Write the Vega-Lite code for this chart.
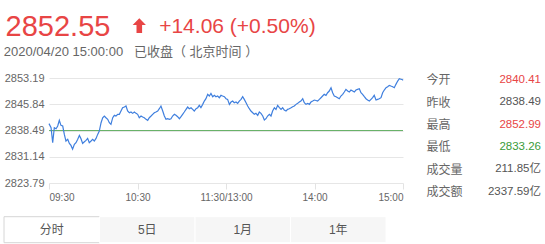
{
  "$schema": "https://vega.github.io/schema/vega-lite/v6.json",
  "autosize": {"type": "pad"},
  "padding": {"left": 3, "top": 13, "right": 5, "bottom": 3},
  "background": "#ffffff",
  "config": {
    "view": {"stroke": null},
    "font": "Liberation Sans, Noto Sans CJK SC, sans-serif",
    "text": {"font": "Liberation Sans, Noto Sans CJK SC, sans-serif"}
  },
  "datasets": {
    "quote": [{"price": "2852.55", "change": "+14.06 (+0.50%)", "stamp": "2020/04/20 15:00:00\u00a0\u00a0\u00a0已收盘（\u00a0北京时间\u00a0）", "blank": ""}],
    "ref": [{"name": "昨收", "price": 2838.49}],
    "stats": [
      {"item": "今开", "value": "2840.41", "dir": "up"},
      {"item": "昨收", "value": "2838.49", "dir": "flat"},
      {"item": "最高", "value": "2852.99", "dir": "up"},
      {"item": "最低", "value": "2833.26", "dir": "down"},
      {"item": "成交量", "value": "211.85亿", "dir": "flat"},
      {"item": "成交额", "value": "2337.59亿", "dir": "flat"}
    ],
    "tabs": [
      {"tab": "分时", "state": "on"},
      {"tab": "5日", "state": "off"},
      {"tab": "1月", "state": "off"},
      {"tab": "1年", "state": "off"}
    ],
    "line": [
      {"t": 0, "v": 2840.41}, {"t": 1.4, "v": 2839.27}, {"t": 2.5, "v": 2835.07}, {"t": 3.6, "v": 2839.27}, {"t": 4.8, "v": 2838.99},
      {"t": 5.9, "v": 2839.74}, {"t": 7.0, "v": 2841.33}, {"t": 8.1, "v": 2839.93}, {"t": 9.3, "v": 2839.74}, {"t": 10.4, "v": 2837.40},
      {"t": 11.5, "v": 2835.54}, {"t": 12.7, "v": 2836.00}, {"t": 13.8, "v": 2834.88}, {"t": 14.9, "v": 2834.32}, {"t": 16.0, "v": 2833.26},
      {"t": 17.2, "v": 2834.60}, {"t": 18.3, "v": 2835.07}, {"t": 19.4, "v": 2836.00}, {"t": 20.6, "v": 2837.12}, {"t": 21.7, "v": 2836.19},
      {"t": 22.8, "v": 2834.88}, {"t": 24.0, "v": 2835.35}, {"t": 25.1, "v": 2835.72}, {"t": 26.2, "v": 2836.28}, {"t": 27.3, "v": 2835.07},
      {"t": 28.5, "v": 2835.54}, {"t": 29.6, "v": 2836.00}, {"t": 30.7, "v": 2835.54}, {"t": 31.9, "v": 2836.28}, {"t": 33.0, "v": 2837.40},
      {"t": 34.1, "v": 2838.34}, {"t": 35.3, "v": 2840.67}, {"t": 36.4, "v": 2842.07}, {"t": 37.5, "v": 2842.54}, {"t": 38.6, "v": 2842.07},
      {"t": 39.8, "v": 2841.61}, {"t": 40.9, "v": 2840.67}, {"t": 42.0, "v": 2840.21}, {"t": 43.2, "v": 2842.07}, {"t": 44.3, "v": 2842.73},
      {"t": 45.4, "v": 2842.54}, {"t": 46.6, "v": 2843.01}, {"t": 47.7, "v": 2843.01}, {"t": 48.8, "v": 2843.94}, {"t": 49.9, "v": 2844.87},
      {"t": 51.1, "v": 2845.06}, {"t": 52.2, "v": 2845.34}, {"t": 53.3, "v": 2843.94}, {"t": 54.5, "v": 2843.47}, {"t": 55.6, "v": 2843.66},
      {"t": 56.7, "v": 2843.29}, {"t": 57.9, "v": 2843.66}, {"t": 59.0, "v": 2843.29}, {"t": 60.1, "v": 2843.01}, {"t": 61.2, "v": 2842.07},
      {"t": 62.4, "v": 2842.54}, {"t": 63.5, "v": 2842.26}, {"t": 64.6, "v": 2842.07}, {"t": 65.8, "v": 2841.61}, {"t": 66.9, "v": 2841.33},
      {"t": 68.0, "v": 2842.07}, {"t": 69.2, "v": 2842.54}, {"t": 70.3, "v": 2843.01}, {"t": 71.4, "v": 2843.47}, {"t": 72.5, "v": 2843.66},
      {"t": 73.7, "v": 2843.94}, {"t": 74.8, "v": 2844.59}, {"t": 75.9, "v": 2845.34}, {"t": 77.1, "v": 2843.94}, {"t": 78.2, "v": 2842.54},
      {"t": 79.3, "v": 2841.61}, {"t": 80.4, "v": 2841.79}, {"t": 81.6, "v": 2841.61}, {"t": 82.7, "v": 2841.79}, {"t": 83.8, "v": 2842.54},
      {"t": 85.0, "v": 2843.01}, {"t": 86.1, "v": 2842.73}, {"t": 87.2, "v": 2842.35}, {"t": 88.4, "v": 2841.79}, {"t": 89.5, "v": 2842.35},
      {"t": 90.6, "v": 2843.01}, {"t": 91.7, "v": 2843.66}, {"t": 92.9, "v": 2844.41}, {"t": 94.0, "v": 2845.06}, {"t": 95.1, "v": 2844.59},
      {"t": 96.3, "v": 2844.87}, {"t": 97.4, "v": 2844.41}, {"t": 98.5, "v": 2843.94}, {"t": 99.7, "v": 2844.59}, {"t": 100.8, "v": 2844.87},
      {"t": 101.9, "v": 2845.53}, {"t": 103.0, "v": 2844.87}, {"t": 104.2, "v": 2845.81}, {"t": 105.3, "v": 2846.74}, {"t": 106.4, "v": 2847.39},
      {"t": 107.6, "v": 2848.61}, {"t": 108.7, "v": 2848.14}, {"t": 109.8, "v": 2848.89}, {"t": 111.0, "v": 2847.95}, {"t": 112.1, "v": 2848.33},
      {"t": 113.2, "v": 2847.95}, {"t": 114.3, "v": 2848.14}, {"t": 115.5, "v": 2847.67}, {"t": 116.6, "v": 2848.33}, {"t": 117.7, "v": 2848.14},
      {"t": 118.9, "v": 2847.95}, {"t": 120.0, "v": 2847.39}, {"t": 121.1, "v": 2847.21}, {"t": 122.3, "v": 2845.81}, {"t": 123.4, "v": 2846.46},
      {"t": 124.5, "v": 2846.74}, {"t": 125.6, "v": 2846.27}, {"t": 126.8, "v": 2846.46}, {"t": 127.9, "v": 2846.09}, {"t": 129.0, "v": 2846.74},
      {"t": 130.2, "v": 2847.21}, {"t": 131.3, "v": 2847.95}, {"t": 132.4, "v": 2847.21}, {"t": 133.6, "v": 2846.27}, {"t": 134.7, "v": 2845.34},
      {"t": 135.8, "v": 2844.59}, {"t": 136.9, "v": 2843.94}, {"t": 138.1, "v": 2843.47}, {"t": 139.2, "v": 2843.01}, {"t": 140.3, "v": 2843.29},
      {"t": 141.5, "v": 2842.73}, {"t": 142.6, "v": 2843.66}, {"t": 143.7, "v": 2843.29}, {"t": 144.9, "v": 2842.54}, {"t": 146.0, "v": 2841.42},
      {"t": 147.1, "v": 2841.79}, {"t": 148.2, "v": 2842.54}, {"t": 149.4, "v": 2843.01}, {"t": 150.5, "v": 2842.54}, {"t": 151.6, "v": 2843.94},
      {"t": 152.8, "v": 2844.87}, {"t": 153.9, "v": 2844.41}, {"t": 155.0, "v": 2845.53}, {"t": 156.2, "v": 2844.87}, {"t": 157.3, "v": 2844.41},
      {"t": 158.4, "v": 2844.87}, {"t": 159.5, "v": 2844.22}, {"t": 160.7, "v": 2843.94}, {"t": 161.8, "v": 2844.41}, {"t": 162.9, "v": 2844.59},
      {"t": 164.1, "v": 2844.87}, {"t": 165.2, "v": 2845.15}, {"t": 166.3, "v": 2845.34}, {"t": 167.5, "v": 2845.81}, {"t": 168.6, "v": 2846.09},
      {"t": 169.7, "v": 2846.46}, {"t": 170.8, "v": 2846.74}, {"t": 172.0, "v": 2847.39}, {"t": 173.1, "v": 2846.27}, {"t": 174.2, "v": 2845.81},
      {"t": 175.4, "v": 2846.09}, {"t": 176.5, "v": 2845.81}, {"t": 177.6, "v": 2846.46}, {"t": 178.8, "v": 2846.74}, {"t": 179.9, "v": 2847.02},
      {"t": 181.0, "v": 2846.90}, {"t": 182.1, "v": 2846.74}, {"t": 183.3, "v": 2847.21}, {"t": 184.4, "v": 2847.67}, {"t": 185.5, "v": 2848.14},
      {"t": 186.6, "v": 2848.61}, {"t": 187.8, "v": 2848.33}, {"t": 188.9, "v": 2849.07}, {"t": 190.0, "v": 2849.54}, {"t": 191.2, "v": 2850.47},
      {"t": 192.3, "v": 2849.07}, {"t": 193.4, "v": 2848.14}, {"t": 194.6, "v": 2847.95}, {"t": 195.7, "v": 2847.67}, {"t": 196.8, "v": 2847.39},
      {"t": 197.9, "v": 2848.14}, {"t": 199.1, "v": 2848.61}, {"t": 200.2, "v": 2849.26}, {"t": 201.3, "v": 2850.01}, {"t": 202.5, "v": 2849.54},
      {"t": 203.6, "v": 2849.26}, {"t": 204.7, "v": 2849.82}, {"t": 205.9, "v": 2849.54}, {"t": 207.0, "v": 2849.26}, {"t": 208.1, "v": 2849.82},
      {"t": 209.2, "v": 2850.01}, {"t": 210.4, "v": 2850.19}, {"t": 211.5, "v": 2849.07}, {"t": 212.6, "v": 2848.61}, {"t": 213.8, "v": 2847.95},
      {"t": 214.9, "v": 2847.39}, {"t": 216.0, "v": 2847.02}, {"t": 217.2, "v": 2846.74}, {"t": 218.3, "v": 2847.21}, {"t": 219.4, "v": 2847.67},
      {"t": 220.5, "v": 2848.33}, {"t": 221.7, "v": 2847.02}, {"t": 222.8, "v": 2847.21}, {"t": 223.9, "v": 2847.39}, {"t": 225.1, "v": 2847.67},
      {"t": 226.2, "v": 2849.07}, {"t": 227.3, "v": 2849.82}, {"t": 228.5, "v": 2850.47}, {"t": 229.6, "v": 2850.75}, {"t": 230.7, "v": 2851.13},
      {"t": 231.8, "v": 2850.94}, {"t": 233.0, "v": 2850.75}, {"t": 234.1, "v": 2850.47}, {"t": 235.2, "v": 2851.41}, {"t": 236.4, "v": 2852.34},
      {"t": 237.5, "v": 2852.99}, {"t": 238.6, "v": 2852.85}, {"t": 239.7, "v": 2852.70}, {"t": 240, "v": 2852.55}
    ]
  },
  "vconcat": [
    {
      "vconcat": [
        {
          "hconcat": [
            {
              "width": 108, "height": 28,
              "data": {"name": "quote"},
              "mark": {"type": "text", "fontSize": 29, "color": "#e84545", "baseline": "middle", "align": "center"},
              "encoding": {"text": {"field": "price"}}
            },
            {
              "width": 54.6, "height": 28,
              "data": {"name": "quote"},
              "mark": {"type": "point", "filled": true, "opacity": 1, "color": "#e84545", "size": 177,
                       "shape": "M0,-1.3L1,-0.3L0.42,-0.3L0.42,0.9L-0.42,0.9L-0.42,-0.3L-1,-0.3Z"},
              "encoding": {}
            },
            {
              "width": 140.8, "height": 28,
              "data": {"name": "quote"},
              "mark": {"type": "text", "fontSize": 21, "color": "#e84545", "baseline": "middle", "align": "center"},
              "encoding": {"text": {"field": "change"}}
            }
          ],
          "spacing": 0,
          "bounds": "flush"
        },
        {
          "width": 254, "height": 29.3,
          "data": {"name": "quote"},
          "mark": {"type": "text", "fontSize": 13, "color": "#666666", "baseline": "line-bottom", "lineHeight": 9.5, "align": "center"},
          "encoding": {"text": {"field": "stamp"}}
        },
        {
          "hconcat": [
            {
              "width": 22, "height": 105,
              "data": {"name": "quote"},
              "mark": {"type": "text"},
              "encoding": {"text": {"field": "blank"}}
            },
            {
              "width": 354, "height": 105,
              "layer": [
                {
                  "data": {"name": "ref"},
                  "mark": {"type": "rule", "color": "#69b269", "strokeWidth": 1},
                  "encoding": {"y": {"field": "price", "type": "quantitative"}}
                },
                {
                  "data": {"name": "line"},
                  "mark": {"type": "line", "color": "#3f7fde", "strokeWidth": 1.2},
                  "encoding": {
                    "x": {"field": "t", "type": "quantitative",
                          "scale": {"domain": [0, 240], "nice": false, "zero": false},
                          "axis": {"values": [0, 60, 120, 180, 240], "tickCount": 5, "title": null, "grid": false, "domain": false,
                                   "ticks": true, "tickSize": 6, "tickColor": "#e3e3e3", "labelPadding": 3,
                                   "labelFontSize": 10, "labelColor": "#666666", "labelFlush": true,
                                   "labelExpr": "datum.value == 0 ? '09:30' : datum.value == 60 ? '10:30' : datum.value == 120 ? '11:30/13:00' : datum.value == 180 ? '14:00' : '15:00'"}},
                    "y": {"field": "v", "type": "quantitative",
                          "scale": {"domain": [2823.79, 2853.19], "nice": false, "zero": false},
                          "axis": {"values": [2823.79, 2831.14, 2838.49, 2845.84, 2853.19], "tickCount": 5, "format": ".2f", "title": null,
                                   "grid": true, "gridColor": "#e6e6e6", "domain": false, "ticks": false, "tickSize": 0,
                                   "labelOverlap": false, "labelPadding": 5, "labelFontSize": 11, "labelColor": "#666666"}}
                  }
                }
              ]
            },
            {
              "width": 115, "height": 115.4,
              "data": {"name": "stats"},
              "mark": {"type": "text", "fontSize": 11.5, "align": "right", "baseline": "middle"},
              "encoding": {
                "x": {"value": "width"},
                "y": {"field": "item", "type": "nominal", "sort": null,
                      "scale": {"type": "point", "padding": 0.076},
                      "axis": {"title": null, "domain": false, "ticks": false, "tickSize": 0, "grid": false,
                               "labelAlign": "left", "labelPadding": 0, "labelFontSize": 12, "labelColor": "#666666"}},
                "text": {"field": "value"},
                "color": {"field": "dir", "type": "nominal", "legend": null,
                          "scale": {"domain": ["up", "flat", "down"], "range": ["#e84545", "#555555", "#3a9b3a"]}}
              }
            }
          ],
          "spacing": 23,
          "bounds": "flush"
        }
      ],
      "spacing": 0
    },
    {
      "width": 382, "height": 26,
      "data": {"name": "tabs"},
      "encoding": {
        "x": {"field": "tab", "type": "nominal", "sort": null, "axis": null,
              "scale": {"paddingInner": 0, "paddingOuter": 0}}
      },
      "layer": [
        {
          "mark": {"type": "bar", "strokeWidth": 1},
          "encoding": {
            "fill": {"field": "state", "type": "nominal", "legend": null,
                     "scale": {"domain": ["on", "off"], "range": ["#ffffff", "#f6f6f6"]}},
            "stroke": {"field": "state", "type": "nominal", "legend": null,
                       "scale": {"domain": ["on", "off"], "range": ["#d6d6d6", "#ffffff"]}}
          }
        },
        {
          "mark": {"type": "text", "fontSize": 12, "color": "#555555", "baseline": "middle"},
          "encoding": {"text": {"field": "tab"}}
        }
      ]
    }
  ],
  "spacing": 13.7
}
